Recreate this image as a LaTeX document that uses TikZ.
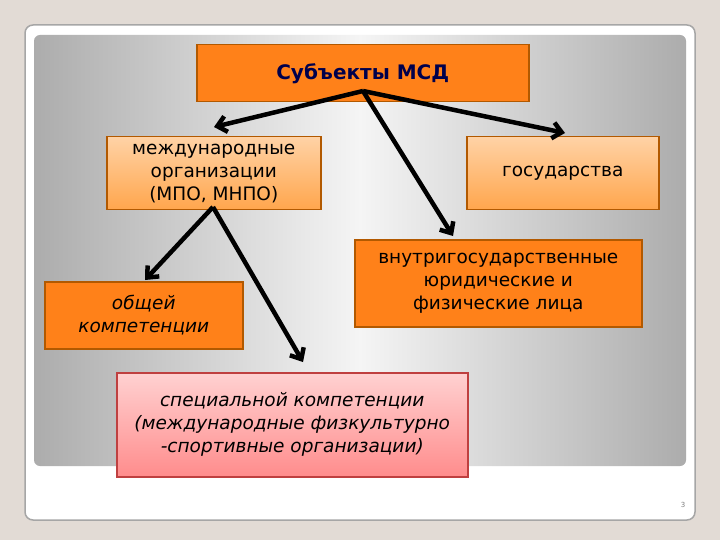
\documentclass[tikz,border=0pt]{standalone}
\usepackage{fontspec}
\setmainfont{DejaVu Sans}
\usetikzlibrary{arrows.meta}
\begin{document}
\begin{tikzpicture}[x=1pt,y=-1pt,
  box/.style={draw=#1!70!black,line width=1.5pt,align=center,font=\fontsize{18.5}{23}\selectfont,inner sep=0pt,anchor=north west},
  arr/.style={line width=4.5pt,-{Straight Barb[length=9pt,width=16pt]}}]
\useasboundingbox (0,0) rectangle (720,540);
\fill[gray!20!white!90!brown] (0,0) rectangle (720,540);
\fill[white,rounded corners=8pt] (25,25) rectangle (695,520);
\draw[gray!70,line width=1.5pt,rounded corners=8pt] (25,25) rectangle (695,520);
\shade[left color=gray!65,right color=gray!65,middle color=gray!8,rounded corners=6pt] (34,35) rectangle (686,466);
\node[font=\scriptsize,text=gray] (pn) at (683,505) {3};
\node[box=orange,fill=orange!90!red!90!white,minimum width=332pt,minimum height=57pt,font=\fontsize{20}{24}\selectfont\bfseries,text=blue!30!black] (top) at (196,44) {Субъекты МСД};
\node[box=orange,top color=orange!35,bottom color=orange!70,minimum width=214pt,minimum height=73pt] (mo) at (106,136) {международные\\организации\\(МПО, МНПО)};
\node[box=orange,top color=orange!35,bottom color=orange!70,minimum width=192pt,minimum height=73pt] (gos) at (466,136) {государства};
\node[box=orange,fill=orange!90!red!90!white,minimum width=198pt,minimum height=67pt,font=\fontsize{18.5}{23}\selectfont\itshape] (ob) at (44,281) {общей\\компетенции};
\node[box=orange,fill=orange!90!red!90!white,minimum width=287pt,minimum height=87pt] (vn) at (354,239) {внутригосударственные\\юридические и\\физические лица};
\node[box=red,top color=red!18,bottom color=red!45,draw=red!50!gray,minimum width=351pt,minimum height=104pt,font=\fontsize{18.5}{23}\selectfont\itshape] (sp) at (116,372) {специальной компетенции\\(международные физкультурно\\-спортивные организации)};
\coordinate (t0) at (363,91);
\coordinate (m0) at (213,207);
\draw[arr] (t0) -- (214,127);
\draw[arr] (t0) -- (565,133);
\draw[arr] (t0) -- (453,236);
\draw[arr] (m0) -- (145,280);
\draw[arr] (m0) -- (303,362);
\end{tikzpicture}
\end{document}
